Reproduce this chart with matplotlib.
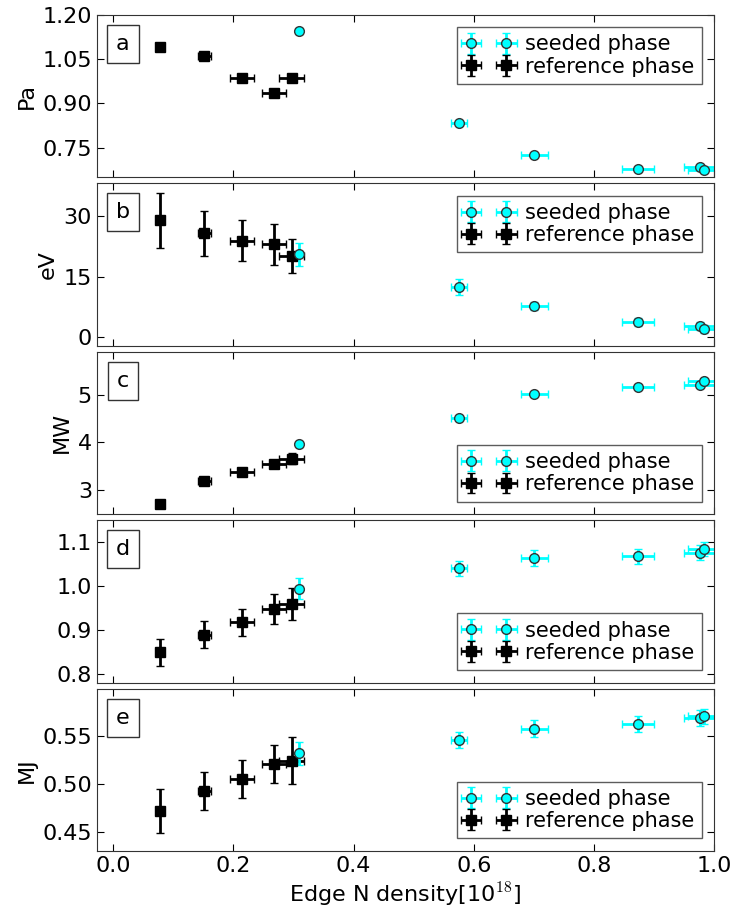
import matplotlib
matplotlib.use('Agg')
from matplotlib import pyplot as plt

plt.rcParams['font.family'] = 'DejaVu Sans'
plt.rcParams['mathtext.fontset'] = 'cm'
plt.rcParams['font.size'] = 16

# Valores
ref_x = [0.078, 0.152, 0.214, 0.268, 0.297]
ref_xerr = [0.003, 0.011, 0.020, 0.020, 0.021]
seed_x = [0.3095, 0.575, 0.701, 0.873, 0.976, 0.983]
seed_xerr = [0.004, 0.013, 0.022, 0.027, 0.027, 0.027]

# a: presión
ref_pa = [1.090, 1.061, 0.984, 0.936, 0.985]
ref_pa_err = [0.004, 0.005, 0.005, 0.005, 0.005]
seed_pa = [1.144, 0.833, 0.725, 0.678, 0.684, 0.674]
seed_pa_err = [0.010, 0.005, 0.005, 0.005, 0.005, 0.005]

# b: temperatura
ref_ev = [28.8, 25.6, 23.8, 22.9, 20.1]
ref_ev_err = [6.7, 5.5, 5.0, 5.0, 4.2]
seed_ev = [20.5, 12.45, 7.76, 3.8, 2.9, 2.1]
seed_ev_err = [2.8, 1.9, 1.0, 1.0, 1.0, 1.0]

# c: potencia
ref_mw = [2.72, 3.19, 3.37, 3.54, 3.66]
ref_mw_err = [0.05, 0.04, 0.05, 0.05, 0.12]
seed_mw = [3.97, 4.51, 5.02, 5.16, 5.21, 5.29]
seed_mw_err = [0.03, 0.03, 0.03, 0.03, 0.03, 0.03]

# d: sin unidad
ref_d = [0.8485, 0.889, 0.917, 0.947, 0.959]
ref_d_err = [0.030, 0.030, 0.031, 0.034, 0.037]
seed_d = [0.994, 1.040, 1.064, 1.068, 1.076, 1.084]
seed_d_err = [0.023, 0.017, 0.018, 0.017, 0.017, 0.017]

# e: energía
ref_mj = [0.472, 0.4925, 0.5055, 0.521, 0.5245]
ref_mj_err = [0.023, 0.020, 0.020, 0.020, 0.0245]
seed_mj = [0.532, 0.546, 0.558, 0.563, 0.569, 0.571]
seed_mj_err = [0.012, 0.008, 0.009, 0.008, 0.008, 0.008]

panels = [
    ('a', 'Pa', ref_pa, ref_pa_err, seed_pa, seed_pa_err,
     (0.65, 1.2), [0.75, 0.90, 1.05, 1.20], '%.2f', 'upper right'),
    ('b', 'eV', ref_ev, ref_ev_err, seed_ev, seed_ev_err,
     (-2, 38), [0, 15, 30], '%d', 'upper right'),
    ('c', 'MW', ref_mw, ref_mw_err, seed_mw, seed_mw_err,
     (2.5, 5.9), [3, 4, 5], '%d', 'lower right'),
    ('d', '', ref_d, ref_d_err, seed_d, seed_d_err,
     (0.78, 1.15), [0.8, 0.9, 1.0, 1.1], '%.1f', 'lower right'),
    ('e', 'MJ', ref_mj, ref_mj_err, seed_mj, seed_mj_err,
     (0.43, 0.60), [0.45, 0.50, 0.55], '%.2f', 'lower right'),
]

fig, axes = plt.subplots(5, 1, sharex=True, figsize=(7.34, 9.16), dpi=100)
fig.subplots_adjust(left=0.132, right=0.973, top=0.984, bottom=0.071,
                    hspace=0.037)

for ax, (tag, unit, ry, rerr, sy, serr, ylim, yt, fmt, loc) in zip(axes,
                                                                   panels):
    ref = ax.errorbar(ref_x, ry, xerr=ref_xerr, yerr=rerr, fmt='s',
                      color='black', ecolor='black', mfc='black', mec='black',
                      ms=7, elinewidth=2, capsize=3, capthick=1,
                      label='reference phase')
    seed = ax.errorbar(seed_x, sy, xerr=seed_xerr, yerr=serr, fmt='o',
                       color='cyan', ecolor='cyan', mfc='cyan', mec='#333333',
                       ms=7, elinewidth=2, capsize=3, capthick=1,
                       label='seeded phase')
    ax.set_xlim(-0.027, 1.0)
    ax.set_ylim(*ylim)
    ax.set_yticks(yt)
    ax.set_yticklabels([fmt % v for v in yt])
    if unit:
        ax.set_ylabel(unit, fontsize=16)
    ax.tick_params(direction='in', top=True, right=True, length=5,
                   labelsize=16)
    for sp in ax.spines.values():
        sp.set_color('#333333')
    ax.text(0.042, 0.82, tag, transform=ax.transAxes, ha='center',
            va='center', fontsize=16,
            bbox=dict(boxstyle='square,pad=0.4', fc='white', ec='#333333'))
    leg = ax.legend([seed, ref], ['seeded phase', 'reference phase'],
                    loc=loc, numpoints=2, fancybox=False, fontsize=15,
                    labelspacing=0.1, handletextpad=0.6, borderpad=0.35,
                    handlelength=2.3, borderaxespad=0.6)
    leg.get_frame().set_edgecolor('#333333')
    leg.get_frame().set_linewidth(1.0)

axes[-1].set_xticks([0.0, 0.2, 0.4, 0.6, 0.8, 1.0])
axes[-1].set_xticklabels(['0.0', '0.2', '0.4', '0.6', '0.8', '1.0'])
axes[-1].set_xlabel(r'Edge N density[10$^{18}$]', fontsize=16)

plt.savefig('out.png', dpi=100)
